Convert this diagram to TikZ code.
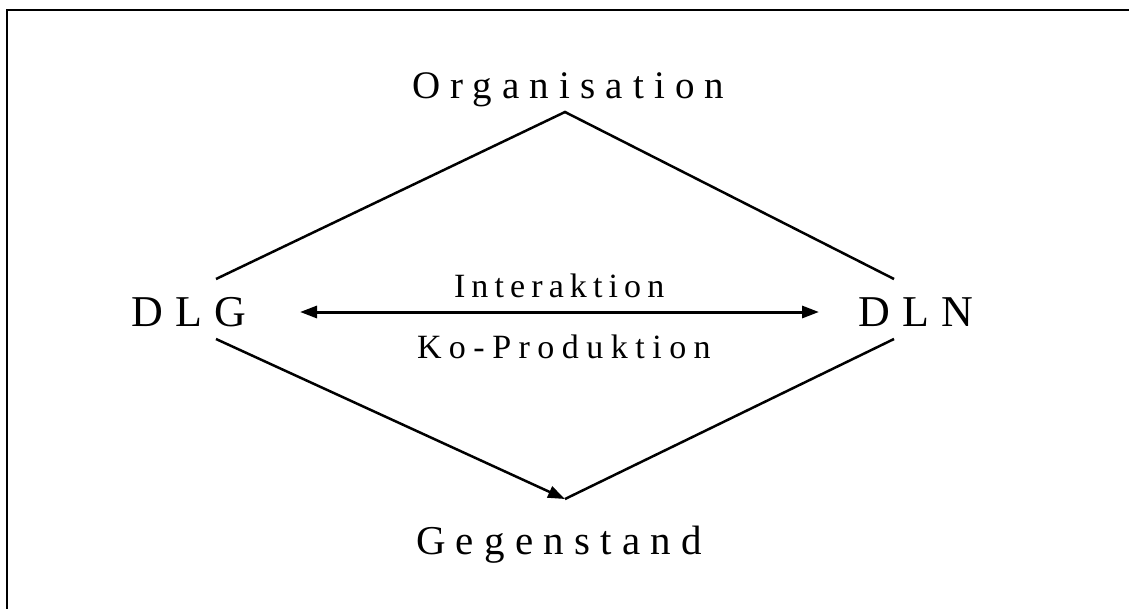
\documentclass[tikz,border=0pt]{standalone}
\usepackage{fontspec}
\setmainfont{Liberation Serif}
\usetikzlibrary{arrows.meta}
\tikzset{
  lbl/.style={inner sep=0pt, outer sep=0pt, anchor=base west},
  edge/.style={line width=2.5pt, line cap=butt},
  tip/.style={-{Triangle[length=17pt,width=12pt]}},
}
\begin{document}
\begin{tikzpicture}[x=1pt,y=-1pt]
\useasboundingbox (0,0) rectangle (1129,608);
\begin{scope}
\clip (0,0) rectangle (1129,608);
\draw[line width=2pt] (7,10) rectangle (1150,630);
\end{scope}
% text nodes
\node[lbl] (org) at (412,98) {\fontsize{39}{45}\selectfont\addfontfeatures{LetterSpace=26}Organisation};
\node[lbl] (dlg) at (131,326) {\fontsize{44}{50}\selectfont\addfontfeatures{LetterSpace=28}DLG};
\node[lbl] (dln) at (858,326) {\fontsize{44}{50}\selectfont\addfontfeatures{LetterSpace=28}DLN};
\node[lbl] (inter) at (454,297) {\fontsize{34}{40}\selectfont\addfontfeatures{LetterSpace=18}Interaktion};
\node[lbl] (kopro) at (417,358) {\fontsize{34}{40}\selectfont\addfontfeatures{LetterSpace=22}Ko-Produktion};
\node[lbl] (geg) at (416,554) {\fontsize{41}{47}\selectfont\addfontfeatures{LetterSpace=25}Gegenstand};
% connector end points
\coordinate (apexT) at (565,112);
\coordinate (apexB) at (565,499);
\coordinate (dlgU) at (216,279);
\coordinate (dlgL) at (216,339);
\coordinate (dlnU) at (894,279);
\coordinate (dlnL) at (894,339);
\coordinate (arL) at (300,312);
\coordinate (arR) at (819,312);
% connectors
\draw[edge] (dlgU) -- (apexT) -- (dlnU);
\draw[edge] (dlnL) -- (apexB);
\draw[edge,tip] (dlgL) -- (apexB);
\draw[line width=3pt,{Triangle[length=17pt,width=12pt]}-{Triangle[length=17pt,width=12pt]}] (arL) -- (arR);
\end{tikzpicture}
\end{document}
